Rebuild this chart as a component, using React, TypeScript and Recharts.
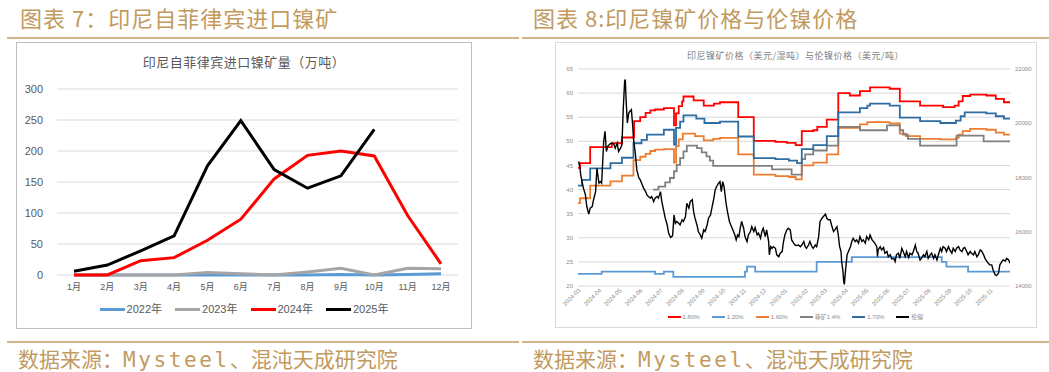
import { LineChart, Line, XAxis, YAxis, CartesianGrid, Legend } from 'recharts';

// ---- chart 7: monthly imports (10k t) ----
const months = ['1月', '2月', '3月', '4月', '5月', '6月', '7月', '8月', '9月', '10月', '11月', '12月'];
const imp2022 = [0, 0, 0, 0, 0, 0, 0, 0, 1, 0, 1, 2];
const imp2023 = [0, 0, 0, 0, 4, 2, 0, 5, 11, 0, 11, 10];
const imp2024 = [0, 0, 23, 28, 56, 90, 155, 193, 200, 192, 96, 18];
const imp2025 = [6, 16, 39, 63, 176, 249, 170, 140, 160, 235, null, null];
const importTicks = [0, 50, 100, 150, 200, 250, 300];
const importSeries = ['2022年', '2023年', '2024年', '2025年'];

// ---- chart 8: ore prices (USD/wmt) and LME nickel (USD/t) ----
// x = days after 2024-03-01
const monthTicks = [
  '2024-03', '2024-04', '2024-05', '2024-06', '2024-07', '2024-08', '2024-09', '2024-10', '2024-11', '2024-12',
  '2025-01', '2025-02', '2025-03', '2025-04', '2025-05', '2025-06', '2025-07', '2025-08', '2025-09', '2025-10', '2025-11',
];
const oreTicks = [20, 25, 30, 35, 40, 45, 50, 55, 60, 65];
const lmeTicks = [14000, 16000, 18000, 20000, 22000];
const priceSeries = ['1.80%', '1.20%', '1.60%', '菲矿1.4%', '1.70%', '伦镍'];

const ore180: [number, number][] = [
  [0, 44.5], [3, 45.5], [18, 48.8], [50, 49.6], [65, 50.8], [83, 54.2], [92, 55.0], [100, 55.9], [107, 56.4],
  [114, 56.6], [127, 56.9], [142, 53.3], [145, 55.8], [149, 57.3], [154, 58.3], [156, 59.3], [171, 58.5],
  [186, 57.4], [201, 57.8], [210, 58.1], [237, 55.0], [260, 50.1], [292, 49.9], [309, 49.7], [322, 49.2],
  [331, 52.1], [348, 52.3], [354, 53.0], [368, 54.5], [385, 60.0], [402, 59.5], [417, 60.4], [432, 61.2],
  [461, 60.9], [476, 58.3], [506, 57.4], [540, 57.1], [557, 57.4], [563, 58.3], [569, 59.4], [580, 59.7],
  [604, 59.5], [618, 58.8], [630, 58.1], [639, 58.1],
];
const ore120: [number, number][] = [
  [0, 22.5], [35, 23.0], [114, 22.5], [127, 23.0], [141, 21.9], [247, 23.0], [250, 24.0], [262, 23.0],
  [353, 25.0], [405, 26.0], [538, 25.0], [545, 24.0], [577, 23.0], [639, 23.0],
];
const ore160: [number, number][] = [
  [0, 37.2], [3, 38.2], [18, 40.8], [48, 41.7], [65, 42.9], [82, 46.1], [92, 46.8], [100, 47.4], [107, 48.0],
  [114, 48.3], [127, 48.4], [142, 45.6], [145, 49.0], [149, 50.4], [155, 51.6], [173, 51.1], [186, 50.2],
  [200, 50.5], [210, 50.7], [237, 47.3], [260, 43.1], [292, 42.8], [312, 42.6], [322, 42.1], [331, 45.0],
  [348, 45.6], [368, 47.3], [385, 52.8], [417, 53.5], [428, 54.0], [461, 53.7], [476, 51.6], [485, 51.1],
  [506, 50.5], [536, 50.4], [559, 50.7], [563, 51.4], [569, 52.1], [580, 52.6], [604, 52.4], [618, 51.8],
  [630, 51.4], [639, 51.4],
];
const phil14: [number, number][] = [
  [111, 40.0], [119, 40.6], [129, 41.5], [136, 42.4], [142, 43.8], [146, 45.1], [151, 46.5], [156, 47.9],
  [161, 49.1], [176, 48.6], [183, 47.7], [190, 46.9], [195, 46.0], [200, 44.9], [287, 44.2], [316, 43.1],
  [331, 46.3], [336, 47.3], [348, 48.1], [368, 49.1], [385, 53.0], [417, 52.3], [457, 53.3], [476, 52.3],
  [481, 51.4], [488, 50.5], [506, 49.1], [560, 51.2], [600, 50.0], [639, 50.0],
];
const ore170: [number, number][] = [
  [0, 40.8], [6, 42.0], [18, 44.4], [48, 45.5], [65, 46.6], [82, 49.6], [94, 50.3], [102, 51.4], [127, 52.4],
  [142, 49.3], [145, 52.8], [151, 54.1], [156, 55.4], [175, 54.7], [187, 53.8], [210, 54.1], [237, 51.0],
  [260, 46.5], [292, 46.3], [312, 46.0], [324, 45.5], [331, 48.4], [348, 49.2], [368, 51.1], [385, 56.0],
  [417, 56.9], [428, 57.4], [432, 57.8], [461, 57.4], [476, 54.9], [506, 54.2], [536, 53.8], [559, 54.3],
  [566, 55.2], [572, 56.0], [604, 55.8], [618, 55.2], [630, 54.7], [639, 54.7],
];
const lme: [number, number][] = [
  [1, 18590], [3, 18340], [4, 18100], [7, 17730], [8, 17610], [11, 17360], [13, 16930], [16, 16650], [18, 16870],
  [21, 16930], [23, 17180], [26, 17480], [28, 18340], [31, 17790], [33, 17850], [35, 17790], [38, 19330],
  [40, 19700], [42, 18960], [44, 19150], [47, 19230], [50, 19270], [53, 19230], [55, 19080], [58, 19270],
  [60, 18960], [63, 19080], [65, 19210], [67, 20560], [69, 21550], [70, 21610], [71, 20930], [73, 20010],
  [75, 20380], [77, 20440], [79, 20500], [81, 19880], [82, 19450], [85, 18840], [87, 18280], [90, 17980],
  [92, 17920], [95, 17730], [97, 17610], [100, 17480], [102, 17360], [104, 17300], [107, 17240], [109, 17300],
  [112, 17110], [114, 17240], [117, 17300], [119, 17240], [122, 17480], [124, 17110], [127, 16750], [129, 16500],
  [132, 16250], [134, 15950], [137, 15790], [139, 15820], [140, 15880], [142, 16620], [144, 16310], [146, 16380],
  [149, 16310], [151, 16250], [154, 16440], [156, 16380], [159, 16560], [161, 17050], [164, 16870], [166, 17110],
  [169, 17180], [171, 16750], [173, 16500], [176, 16250], [178, 16010], [181, 15880], [183, 15760], [186, 16070],
  [188, 16010], [191, 16250], [193, 16500], [196, 16620], [198, 16870], [201, 17240], [203, 17550], [205, 17670],
  [208, 17790], [210, 17850], [212, 17480], [214, 17850], [216, 17670], [219, 17050], [221, 16750], [224, 16380],
  [226, 16250], [229, 16070], [232, 15880], [234, 15700], [236, 15880], [238, 15820], [240, 16130], [242, 16380],
  [245, 16130], [247, 15820], [250, 15640], [252, 15880], [255, 16010], [257, 16190], [260, 16010], [262, 16150],
  [265, 15880], [267, 15950], [270, 15760], [272, 16010], [274, 16130], [277, 15820], [279, 16070], [282, 15640],
  [283, 15150], [285, 15450], [287, 15390], [289, 15450], [292, 15390], [294, 15150], [297, 15080], [299, 15210],
  [302, 15270], [304, 15640], [306, 15880], [309, 16070], [311, 16130], [314, 16070], [316, 15700], [319, 15580],
  [321, 15510], [324, 15490], [326, 15510], [329, 15450], [331, 15510], [334, 15640], [336, 15450], [338, 15390],
  [341, 15510], [343, 15640], [346, 15450], [348, 15390], [351, 15510], [353, 15450], [356, 15820], [358, 16380],
  [361, 16500], [363, 16560], [366, 16650], [368, 16500], [370, 16440], [373, 16440], [375, 16250], [378, 16010],
  [380, 16070], [383, 16190], [385, 15880], [387, 15450], [389, 15270], [390, 14900], [392, 14530], [393, 14160],
  [394, 14060], [396, 14650], [398, 15150], [400, 15270], [403, 15450], [405, 15640], [407, 15760], [410, 15640],
  [412, 15700], [415, 15580], [417, 15820], [420, 15640], [422, 15700], [425, 15580], [427, 15820], [430, 15700],
  [432, 15880], [435, 15700], [437, 15640], [439, 15580], [442, 15450], [443, 15080], [444, 15330], [447, 15450],
  [449, 15330], [452, 15420], [454, 15210], [457, 15270], [459, 15080], [462, 15150], [464, 15000], [467, 15020],
  [469, 14900], [471, 15150], [474, 15210], [476, 15020], [479, 15390], [481, 15270], [484, 15080], [486, 15270],
  [489, 15050], [491, 15210], [494, 15150], [496, 15270], [499, 15510], [501, 15270], [503, 15210], [506, 14960],
  [508, 15020], [511, 15150], [513, 15080], [516, 15270], [518, 15020], [521, 15150], [523, 15210], [526, 15020],
  [528, 15150], [531, 14960], [533, 15150], [536, 15390], [538, 15270], [540, 15450], [543, 15390], [545, 15270],
  [548, 15450], [550, 15330], [553, 15210], [555, 15390], [558, 15270], [560, 15390], [563, 15450], [565, 15330],
  [568, 15270], [570, 15390], [572, 15420], [575, 15270], [577, 15150], [580, 15270], [582, 15210], [585, 15150],
  [587, 15270], [590, 15080], [592, 15150], [595, 15330], [597, 15290], [600, 15150], [602, 15020], [605, 14900],
  [607, 14840], [609, 14780], [612, 14780], [614, 14590], [617, 14410], [619, 14380], [622, 14470], [624, 14780],
  [627, 14900], [629, 14960], [632, 14920], [634, 15020], [637, 14960], [639, 14840],
];

const GOLD = '#c29a5e';
const GOLD_LINE = '#d2b48a';
const CJK = '"Noto Sans CJK SC", sans-serif';
const SANS = '"Liberation Sans", "Noto Sans CJK SC", sans-serif';

const importData = months.map((m, i) => ({
  month: m,
  y2022: imp2022[i],
  y2023: imp2023[i],
  y2024: imp2024[i],
  y2025: imp2025[i],
}));

const dayOf = (ym: string) =>
  (Date.UTC(+ym.slice(0, 4), +ym.slice(5, 7) - 1, 1) - Date.UTC(2024, 2, 1)) / 86400000;
const tickDays = monthTicks.map(dayOf);
const toPts = (arr: [number, number][]) => arr.map(([d, v]) => ({ d, v }));

// legend drawn in series order (recharts sorts the payload by name otherwise)
function makeLegend(order: string[], lineW: number, lineH: number, fontSize: number, gap: number, color: string) {
  return (props: any) => {
    const items = [...(props.payload || [])].sort(
      (a: any, b: any) => order.indexOf(a.value) - order.indexOf(b.value),
    );
    return (
      <div style={{ display: 'flex', justifyContent: 'center', alignItems: 'center', gap }}>
        {items.map((p: any) => (
          <div key={p.value} style={{ display: 'flex', alignItems: 'center' }}>
            <span style={{ display: 'inline-block', width: lineW, height: lineH, background: p.color, marginRight: 2 }} />
            <span style={{ fontSize, color, fontFamily: SANS, lineHeight: 1 }}>{p.value}</span>
          </div>
        ))}
      </div>
    );
  };
}

function DateTick(props: any) {
  const { x, y, payload } = props;
  const label = monthTicks[tickDays.indexOf(payload.value)] ?? '';
  return (
    <text x={x} y={y + 4} textAnchor="end" fontSize={6} fill="#8c8c8c" fontFamily={SANS}
      transform={`rotate(-45, ${x}, ${y})`}>
      {label}
    </text>
  );
}

function Header({ left, text }: { left: number; text: string }) {
  return (
    <div style={{ position: 'absolute', left, top: 3, fontSize: 22, letterSpacing: 1, color: GOLD, fontFamily: CJK, lineHeight: '28px', whiteSpace: 'nowrap' }}>
      {text}
    </div>
  );
}

function Source({ left }: { left: number }) {
  return (
    <div style={{ position: 'absolute', left, top: 345, fontSize: 21, color: GOLD, fontFamily: CJK, lineHeight: '26px', whiteSpace: 'nowrap' }}>
      数据来源：<span style={{ fontFamily: '"DejaVu Sans Mono", monospace', letterSpacing: 2.6 }}>Mysteel</span>、混沌天成研究院
    </div>
  );
}

const hr = (left: number, width: number, top: number) => (
  <div style={{ position: 'absolute', left, top, width, height: 2, background: GOLD_LINE }} />
);

export default function App() {
  return (
    <div style={{ position: 'absolute', left: 0, top: 0, width: 1049, height: 372, background: '#fff', overflow: 'hidden' }}>
      <Header left={20} text="图表 7：印尼自菲律宾进口镍矿" />
      <Header left={533} text="图表 8:印尼镍矿价格与伦镍价格" />
      {hr(7, 512, 37)}
      {hr(522, 527, 37)}
      {hr(7, 512, 341)}
      {hr(522, 527, 341)}
      <Source left={18} />
      <Source left={533} />

      {/* left panel */}
      <div style={{ position: 'absolute', left: 16, top: 42, width: 456, height: 287, border: '1px solid #bfbfbf', boxSizing: 'border-box' }} />
      <div style={{ position: 'absolute', left: 17, top: 52, width: 454, textAlign: 'center', fontSize: 13, letterSpacing: 0.5, color: '#595959', fontFamily: CJK }}>
        印尼自菲律宾进口镍矿量（万吨）
      </div>
      <div style={{ position: 'absolute', left: 17, top: 43 }}>
        <LineChart width={454} height={285} data={importData} margin={{ top: 46, right: 13, left: 0, bottom: 0 }}>
          <CartesianGrid vertical={false} stroke="#d9d9d9" />
          <XAxis dataKey="month" height={53} padding={{ left: 17, right: 17 }} tickLine={false} axisLine={false}
            tickSize={0} tickMargin={9} tick={{ fontSize: 9, fill: '#595959', fontFamily: SANS }} interval={0} />
          <YAxis width={40} domain={[0, 300]} ticks={importTicks} tickLine={false} axisLine={false} tickSize={0}
            tickMargin={14} tick={{ fontSize: 11, fill: '#595959', fontFamily: SANS }} />
          <Line dataKey="y2022" name={importSeries[0]} stroke="#5b9bd5" strokeWidth={3} dot={false} isAnimationActive={false} />
          <Line dataKey="y2023" name={importSeries[1]} stroke="#a5a5a5" strokeWidth={3} dot={false} isAnimationActive={false} />
          <Line dataKey="y2024" name={importSeries[2]} stroke="#ff0000" strokeWidth={3} dot={false} isAnimationActive={false} />
          <Line dataKey="y2025" name={importSeries[3]} stroke="#000000" strokeWidth={3} dot={false} isAnimationActive={false} />
          <Legend verticalAlign="middle" align="center" layout="horizontal"
            wrapperStyle={{ top: 261, left: 0, width: 454, height: 14 }}
            content={makeLegend(importSeries, 25, 3, 11, 13, '#595959')} />
        </LineChart>
      </div>

      {/* right panel */}
      <div style={{ position: 'absolute', left: 555, top: 42, width: 482, height: 286, border: '1px solid #d9d9d9', boxSizing: 'border-box' }} />
      <div style={{ position: 'absolute', left: 555, top: 49, width: 481, textAlign: 'center', fontSize: 9, letterSpacing: 0.5, color: '#7f7f7f', fontFamily: CJK }}>
        印尼镍矿价格（美元/湿吨）与伦镍价格（美元/吨）
      </div>
      <div style={{ position: 'absolute', left: 555, top: 43 }}>
        <LineChart width={481} height={284} margin={{ top: 26, right: 0, left: 0, bottom: 0 }}>
          <CartesianGrid vertical={false} stroke="#d9d9d9" yAxisId="left" />
          <XAxis type="number" dataKey="d" domain={[0, 639]} ticks={tickDays} allowDataOverflow height={41}
            tickLine={false} axisLine={false} tickSize={0} tickMargin={2} tick={<DateTick />} interval={0} />
          <YAxis yAxisId="left" width={23} domain={[20, 65]} ticks={oreTicks} tickLine={false} axisLine={false}
            tickSize={0} tickMargin={5} tick={{ fontSize: 6, fill: '#8c8c8c', fontFamily: SANS }} />
          <YAxis yAxisId="right" orientation="right" width={26} domain={[14000, 22000]} ticks={lmeTicks}
            tickLine={false} axisLine={false} tickSize={0} tickMargin={5}
            tick={{ fontSize: 6, fill: '#8c8c8c', fontFamily: SANS }} />
          <Line yAxisId="left" data={toPts(ore180)} dataKey="v" name={priceSeries[0]} type="stepAfter" stroke="#ff0000" strokeWidth={1.8} dot={false} isAnimationActive={false} />
          <Line yAxisId="left" data={toPts(ore120)} dataKey="v" name={priceSeries[1]} type="stepAfter" stroke="#5b9bd5" strokeWidth={1.8} dot={false} isAnimationActive={false} />
          <Line yAxisId="left" data={toPts(ore160)} dataKey="v" name={priceSeries[2]} type="stepAfter" stroke="#ed7d31" strokeWidth={1.8} dot={false} isAnimationActive={false} />
          <Line yAxisId="left" data={toPts(phil14)} dataKey="v" name={priceSeries[3]} type="stepAfter" stroke="#808080" strokeWidth={1.8} dot={false} isAnimationActive={false} />
          <Line yAxisId="left" data={toPts(ore170)} dataKey="v" name={priceSeries[4]} type="stepAfter" stroke="#2e6ca4" strokeWidth={1.8} dot={false} isAnimationActive={false} />
          <Line yAxisId="right" data={toPts(lme)} dataKey="v" name={priceSeries[5]} type="linear" stroke="#000000" strokeWidth={1.4} dot={false} isAnimationActive={false} />
          <Legend verticalAlign="middle" align="center" layout="horizontal"
            wrapperStyle={{ top: 271, left: 0, width: 481, height: 10 }}
            content={makeLegend(priceSeries, 13, 2, 6, 12, '#8c8c8c')} />
        </LineChart>
      </div>
    </div>
  );
}
